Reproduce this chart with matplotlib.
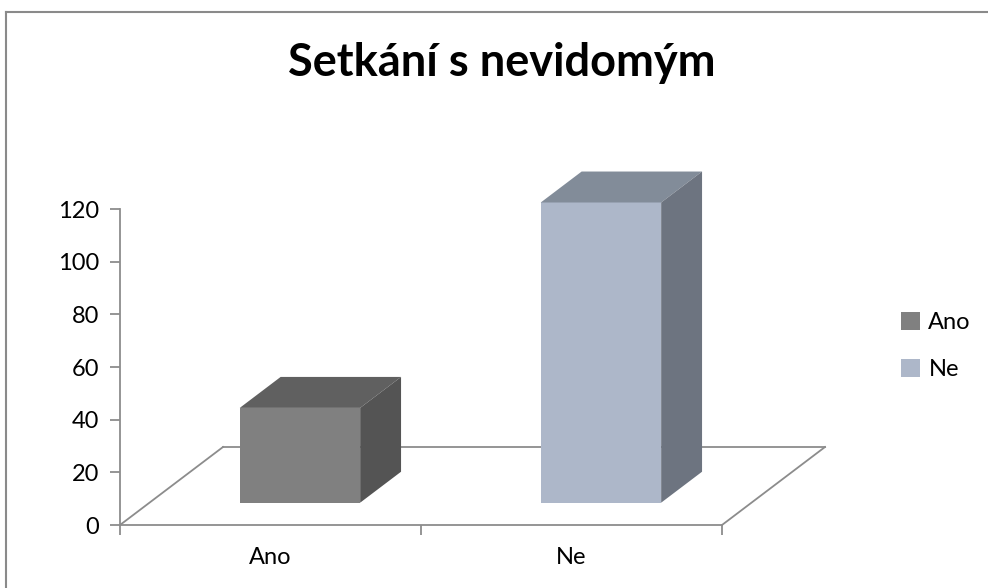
import matplotlib.pyplot as plt
from matplotlib.patches import Polygon
from matplotlib.lines import Line2D

categories = ['Ano', 'Ne']
values = [36, 114]
front_colors = ['#808080', '#adb7c9']
top_colors = ['#606060', '#828c99']
side_colors = ['#545454', '#6d7480']

title = 'Setkání s nevidomým'
yticks = [0, 20, 40, 60, 80, 100, 120]

W, H = 988, 588
fig = plt.figure(figsize=(W / 100, H / 100), dpi=100)
plt.rcParams['font.family'] = ['Lato', 'DejaVu Sans']

# axes box = front plane of the 3D floor (pixels 120..722 x, 525..209 y)
ax = fig.add_axes([120 / W, 1 - 525 / H, (722 - 120) / W, (525 - 209) / H])
ax.set_xlim(0, 2)
ax.set_ylim(0, 120)
ax.patch.set_alpha(0)

grey = '#8c8c8c'
for s in ['top', 'right']:
    ax.spines[s].set_visible(False)
for s in ['left', 'bottom']:
    ax.spines[s].set_color(grey)
    ax.spines[s].set_linewidth(1.3)

ax.set_yticks(yticks)
ax.tick_params(axis='y', length=7, width=1.3, color=grey, labelsize=17, pad=8)
ax.set_xticks([0, 1, 2])
ax.set_xticklabels([])
ax.tick_params(axis='x', length=7, width=1.3, color=grey)
ax.set_xticks([0.5, 1.5], minor=True)
ax.set_xticklabels(categories, minor=True)
ax.tick_params(axis='x', which='minor', length=0, labelsize=17, pad=16)

# oblique depth: full depth shifts by (ddx, ddy) in data units
ddx = 103 / 301
ddy = 78 / (316 / 120)

# floor outline
ax.add_line(Line2D([0, ddx], [0, ddy], color=grey, lw=1.3, clip_on=False))
ax.add_line(Line2D([ddx, 2 + ddx], [ddy, ddy], color=grey, lw=1.3, clip_on=False))
ax.add_line(Line2D([2 + ddx, 2], [ddy, 0], color=grey, lw=1.3, clip_on=False))

# bars
bw = 0.40
d0, d1 = 0.286, 0.683
for i, v in enumerate(values):
    cx = i + 0.5
    x0 = cx - bw / 2 + d0 * ddx
    x1 = cx + bw / 2 + d0 * ddx
    y0 = d0 * ddy
    y1 = y0 + v
    ox = (d1 - d0) * ddx
    oy = (d1 - d0) * ddy
    front = Polygon([(x0, y0), (x1, y0), (x1, y1), (x0, y1)],
                    facecolor=front_colors[i], edgecolor='none', clip_on=False, zorder=3)
    top = Polygon([(x0, y1), (x1, y1), (x1 + ox, y1 + oy), (x0 + ox, y1 + oy)],
                  facecolor=top_colors[i], edgecolor='none', clip_on=False, zorder=3)
    side = Polygon([(x1, y0), (x1 + ox, y0 + oy), (x1 + ox, y1 + oy), (x1, y1)],
                   facecolor=side_colors[i], edgecolor='none', clip_on=False, zorder=3)
    for p in (front, top, side):
        ax.add_patch(p)

# legend
handles = [plt.Rectangle((0, 0), 1, 1, facecolor=c, edgecolor='none') for c in front_colors]
fig.legend(handles, categories, loc='center left', bbox_to_anchor=(880 / W, 1 - 346 / H),
           frameon=False, fontsize=17, handlelength=0.8, handleheight=0.8,
           handletextpad=0.35, labelspacing=1.1)

fig.text(502 / W, 1 - 63 / H, title, ha='center', va='center',
         fontsize=32.5, fontweight='bold')

# chart frame (cut at the right and bottom)
fig.add_artist(Line2D([6 / W, 6 / W], [0, 1 - 12 / H], color='#8a8a8a', lw=1.5))
fig.add_artist(Line2D([6 / W, 1], [1 - 12 / H, 1 - 12 / H], color='#8a8a8a', lw=1.5))

fig.savefig('out.png', dpi=100)
